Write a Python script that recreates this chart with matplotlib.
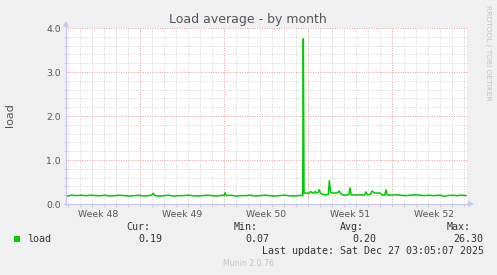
import matplotlib
matplotlib.use("Agg")
import matplotlib.pyplot as plt
import numpy as np

# ---- data (x in days since Mon Nov 24 2025 00:00, i.e. start of Week 48) ----
days = [0.92, 1.3, 1.7, 2.1, 2.5, 2.9, 3.3, 3.7, 4.1, 4.5, 4.9, 5.3, 5.7,
        6.1, 6.5, 6.9, 7.3, 7.7, 7.95, 8.1, 8.25, 8.6, 9.0, 9.4, 9.8, 10.2,
        10.6, 11.0, 11.4, 11.8, 12.2, 12.6, 13.0, 13.4, 13.8, 14.0, 14.08,
        14.2, 14.6, 15.0, 15.4, 15.8, 16.2, 16.6, 17.0, 17.4, 17.8, 18.2,
        18.6, 19.0, 19.4, 19.8, 20.2, 20.5, 20.56, 20.61, 20.67, 20.9,
        21.1, 21.22, 21.35, 21.5, 21.58, 21.7, 21.85, 21.92, 22.05, 22.2,
        22.5, 22.7, 22.78, 22.88, 23.1, 23.4, 23.5, 23.58, 23.7, 23.85,
        24.1, 24.4, 24.5, 24.6, 24.9, 25.3, 25.7, 25.83, 25.95, 26.2,
        26.36, 26.5, 26.8, 27.0, 27.15, 27.4, 27.5, 27.6, 27.9, 28.3,
        28.7, 29.1, 29.5, 29.9, 30.3, 30.7, 31.1, 31.5, 31.9, 32.2, 32.4,
        32.6, 33.0, 33.4, 33.8, 34.17]
loads = [0.18, 0.20, 0.19, 0.20, 0.19, 0.20, 0.19, 0.19, 0.20, 0.18, 0.19,
         0.20, 0.19, 0.18, 0.19, 0.20, 0.18, 0.19, 0.20, 0.24, 0.19, 0.18,
         0.19, 0.20, 0.18, 0.19, 0.19, 0.20, 0.19, 0.18, 0.19, 0.20, 0.19,
         0.18, 0.20, 0.19, 0.26, 0.19, 0.20, 0.18, 0.19, 0.19, 0.20, 0.18,
         0.19, 0.20, 0.19, 0.18, 0.19, 0.20, 0.19, 0.18, 0.19, 0.20, 0.18,
         3.76, 0.25, 0.25, 0.24, 0.29, 0.25, 0.25, 0.29, 0.25, 0.26, 0.33,
         0.25, 0.22, 0.21, 0.22, 0.54, 0.26, 0.25, 0.25, 0.26, 0.30, 0.25,
         0.21, 0.20, 0.21, 0.37, 0.21, 0.20, 0.21, 0.20, 0.28, 0.21, 0.22,
         0.30, 0.25, 0.25, 0.25, 0.21, 0.20, 0.33, 0.21, 0.20, 0.21, 0.20,
         0.19, 0.20, 0.21, 0.20, 0.19, 0.20, 0.19, 0.20, 0.19, 0.17, 0.19,
         0.20, 0.19, 0.20, 0.19]

week_labels = ["Week 48", "Week 49", "Week 50", "Week 51", "Week 52"]
week_label_pos = [3.5, 10.5, 17.5, 24.5, 31.5]
week_starts = [7, 14, 21, 28]
y_major = [0.0, 1.0, 2.0, 3.0, 4.0]
y_labels = ["0.0", "1.0", "2.0", "3.0", "4.0"]

legend_name = "load"
stat_headers = ["Cur:", "Min:", "Avg:", "Max:"]
stat_values = ["0.19", "0.07", "0.20", "26.30"]
last_update = "Last update: Sat Dec 27 03:05:07 2025"

W, H = 497, 275
BG = "#F0F0F0"
TXT = "#555555"

fig = plt.figure(figsize=(W / 100, H / 100), dpi=100, facecolor=BG)

def fx(px):
    return px / W

def fy(py):
    return 1 - py / H

ax_l, ax_r, ax_t, ax_b = 66.5, 467, 28, 204
ax = fig.add_axes([fx(ax_l), fy(ax_b), (ax_r - ax_l) / W, (ax_b - ax_t) / H])
ax.set_facecolor("white")
x0 = (ax_l - 56) / 12.0
x1 = (ax_r - 56) / 12.0
ax.set_xlim(x0, x1)
ax.set_ylim(0, 4.0)
for s in ax.spines.values():
    s.set_visible(False)

# minor grid
dot = (0, (1, 1.5))
for d in range(1, 35):
    if d in week_starts:
        continue
    ax.axvline(d, color="#d4d4d4", lw=0.7, ls=dot, zorder=0)
for v in np.arange(0.2, 4.01, 0.2):
    if abs(v - round(v)) < 1e-6:
        continue
    ax.axhline(v, color="#d4d4d4", lw=0.7, ls=dot, zorder=0)
# major grid
for d in week_starts:
    ax.axvline(d, color="#e8a0a0", lw=0.7, ls=dot, zorder=0.5)
for v in y_major[1:]:
    ax.axhline(v, color="#e8a0a0", lw=0.7, ls=dot, zorder=0.5)

ax.plot(days, loads, color="#00CC00", lw=1.1, zorder=3, solid_joinstyle="miter")

# ticks
ax.set_yticks(y_major)
ax.set_yticklabels(y_labels)
ax.set_yticks(np.arange(0, 4.01, 0.2), minor=True)
ax.set_xticks(week_label_pos)
ax.set_xticklabels(week_labels)
ax.set_xticks(list(range(1, 35)), minor=True)
ax.tick_params(axis="both", which="major", length=0, labelsize=6.7,
               labelcolor=TXT, pad=4)
ax.tick_params(axis="y", which="minor", length=2, color="#c8c8c8", width=0.6)
ax.tick_params(axis="x", which="minor", length=2, color="#c8c8c8", width=0.6)
ax.tick_params(axis="x", which="major", pad=4)

# axis lines with arrows
acol = "#c8c8f0"
fig.add_artist(plt.Line2D([fx(66), fx(66)], [fy(205), fy(25)], color=acol, lw=0.9))
fig.add_artist(plt.Line2D([fx(64), fx(469)], [fy(204), fy(204)], color=acol, lw=0.9))
fig.add_artist(plt.Polygon([[fx(63), fy(27)], [fx(69), fy(27)], [fx(66), fy(21)]],
                           closed=True, color=acol, lw=0))
fig.add_artist(plt.Polygon([[fx(468), fy(201)], [fx(468), fy(207)], [fx(474), fy(204)]],
                           closed=True, color=acol, lw=0))

# title and labels
fig.text(fx(248), fy(19), "Load average - by month", ha="center", va="center",
         fontsize=9, color=TXT)
fig.text(fx(10), fy(115), "load", ha="center", va="center", rotation=90,
         fontsize=8, color=TXT)
fig.text(fx(488), fy(53), "RRDTOOL / TOBI OETIKER", ha="center", va="center",
         rotation=270, fontsize=5.4, color="#c4c4c4")

# legend
mono = "DejaVu Sans Mono"
fs = 7.2
fig.add_artist(plt.Rectangle((fx(14), fy(241.5)), 5.5 / W, 5.5 / H,
                             color="#00CC00", lw=0))
fig.text(fx(27), fy(239.5), legend_name, ha="left", va="center",
         family=mono, fontsize=fs, color="#333333")
hdr_right = [150.5, 257.5, 363.5, 470.5]
val_right = [162.5, 269.5, 376.5, 483.5]
for h, v, hr, vr in zip(stat_headers, stat_values, hdr_right, val_right):
    fig.text(fx(hr), fy(227.5), h, ha="right", va="center", family=mono,
             fontsize=fs, color="#333333")
    fig.text(fx(vr), fy(239.5), v, ha="right", va="center", family=mono,
             fontsize=fs, color="#333333")
fig.text(fx(483.5), fy(251.5), last_update, ha="right", va="center",
         family=mono, fontsize=fs, color="#333333")
fig.text(fx(248), fy(264), "Munin 2.0.76", ha="center", va="center",
         fontsize=5.6, color="#c4c4c4")

fig.savefig("out.png", dpi=100, facecolor=BG)
